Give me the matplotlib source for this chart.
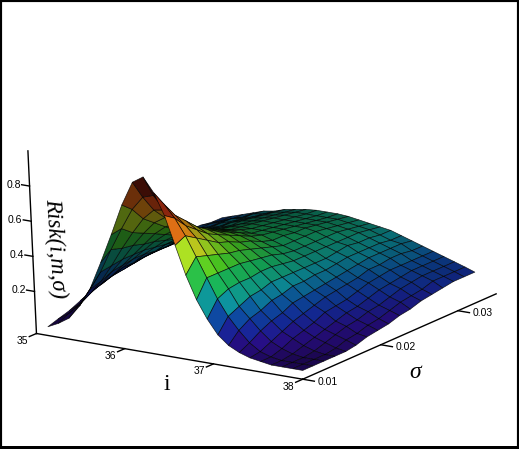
"""
Risk(i,m,sigma) surface, 3D view with black image frame
"""
import numpy as np
import matplotlib
matplotlib.use("Agg")
import matplotlib.pyplot as plt
from matplotlib.colors import LinearSegmentedColormap
from mpl_toolkits.mplot3d import proj3d

# values
i_values = [35.13, 35.25, 35.37, 35.49, 35.61, 35.73, 35.85, 35.97, 36.09, 36.21, 36.33, 36.45, 36.57,
            36.69, 36.81, 36.93, 37.05, 37.17, 37.29, 37.41, 37.53, 37.65, 37.77, 37.89, 38.0]
sigma_values = [0.0100, 0.0113, 0.0127, 0.0141, 0.0155, 0.0168, 0.0182, 0.0196, 0.0210,
                0.0224, 0.0238, 0.0252, 0.0266, 0.0280, 0.0294, 0.0308, 0.0322]
risk = [
    [.01, .04, .08, .16, .27, .43, .60, .78, .92, .96, .88, .76, .60, .44, .31, .21, .13, .08, .05, .03, .02, .01, .01, .01, .01],
    [.03, .07, .13, .23, .34, .48, .61, .73, .81, .83, .79, .72, .63, .52, .41, .30, .21, .14, .08, .04, .02, .01, .01, .01, .01],
    [.05, .10, .17, .25, .35, .46, .56, .65, .71, .72, .70, .65, .59, .50, .41, .33, .24, .18, .12, .07, .04, .02, .01, .01, .01],
    [.08, .14, .20, .28, .36, .45, .53, .60, .64, .65, .64, .60, .55, .48, .41, .34, .27, .20, .15, .10, .07, .04, .02, .01, .01],
    [.11, .16, .22, .29, .36, .43, .50, .55, .58, .59, .58, .55, .51, .46, .41, .34, .28, .23, .17, .13, .09, .06, .04, .02, .01],
    [.13, .18, .24, .30, .36, .42, .47, .51, .53, .54, .54, .52, .49, .45, .40, .35, .30, .24, .20, .15, .11, .08, .06, .04, .02],
    [.15, .19, .24, .30, .35, .40, .44, .47, .50, .51, .50, .49, .46, .43, .39, .35, .30, .26, .21, .17, .14, .10, .08, .05, .04],
    [.16, .20, .25, .29, .34, .38, .42, .44, .46, .47, .47, .46, .44, .41, .38, .34, .30, .26, .22, .19, .15, .12, .09, .07, .05],
    [.18, .21, .25, .29, .33, .37, .40, .42, .44, .44, .44, .43, .41, .39, .36, .33, .30, .27, .23, .20, .16, .13, .11, .08, .06],
    [.18, .22, .25, .29, .32, .35, .38, .40, .41, .42, .41, .41, .39, .37, .35, .33, .30, .27, .24, .21, .18, .15, .12, .10, .08],
    [.19, .22, .25, .28, .32, .35, .37, .39, .40, .40, .40, .40, .39, .37, .35, .33, .30, .28, .25, .22, .20, .17, .14, .12, .09],
    [.20, .23, .26, .28, .32, .34, .36, .38, .39, .39, .39, .39, .38, .37, .35, .33, .31, .29, .26, .24, .21, .18, .16, .13, .11],
    [.21, .24, .26, .29, .31, .34, .36, .37, .38, .38, .38, .38, .38, .37, .35, .33, .32, .29, .27, .24, .22, .19, .17, .14, .12],
    [.22, .24, .26, .29, .31, .33, .35, .36, .37, .37, .37, .37, .37, .36, .35, .33, .31, .29, .27, .25, .22, .20, .18, .16, .13],
    [.22, .24, .26, .29, .30, .32, .34, .35, .36, .36, .36, .36, .36, .35, .34, .33, .31, .29, .27, .25, .22, .20, .18, .16, .14],
    [.21, .23, .25, .27, .30, .31, .33, .34, .35, .35, .35, .35, .35, .34, .33, .32, .30, .28, .27, .24, .22, .20, .18, .16, .14],
    [.21, .23, .25, .27, .29, .30, .32, .33, .34, .345, .345, .345, .34, .33, .32, .31, .30, .28, .26, .24, .22, .20, .18, .16, .14],
]

i_ticks = [35, 36, 37, 38]
sigma_ticks = [0.01, 0.02, 0.03]
risk_ticks = [0.2, 0.4, 0.6, 0.8]

I_LIM = (35.0, 38.0)
S_LIM = (0.01, 0.035)
Z_LIM = (-0.04, 1.0)
BOX = (302, 355, 181)
Z_LEAN = 0.09  # the z axis leans left towards the top

W, H = 519, 449

# z -> colour
cmap = LinearSegmentedColormap.from_list("risk", [
    (0.00, "#2a0a78"), (0.08, "#28108c"), (0.15, "#142a9a"), (0.22, "#0c4c9c"),
    (0.30, "#0c8c96"), (0.40, "#14a858"), (0.50, "#46c020"), (0.60, "#a0d020"),
    (0.70, "#e09a14"), (0.82, "#d04014"), (0.97, "#4a0808"), (1.00, "#4a0808"),
])


def shaded_colors(X, Y, Z):
    # normals in box units, data units would be useless (sigma range is tiny)
    sx = BOX[0] / (I_LIM[1] - I_LIM[0])
    sy = BOX[1] / (S_LIM[1] - S_LIM[0])
    sz = BOX[2] / (Z_LIM[1] - Z_LIM[0])
    dz_dy, dz_dx = np.gradient(Z * sz, Y[:, 0] * sy, X[0, :] * sx)
    n = np.dstack([-dz_dx, -dz_dy, np.ones_like(Z)])
    n /= np.linalg.norm(n, axis=2, keepdims=True)
    light = np.array([0.85, -0.25, 0.20])
    light /= np.linalg.norm(light)
    shade = 0.5 + 0.6 * np.clip(n @ light, 0, None)
    rgba = cmap(np.clip(Z, 0, 1))
    rgba[..., :3] = np.clip(rgba[..., :3] * shade[..., None], 0, 1)
    return rgba


def label3d(ax, x, y, z, s, **kw):
    # place the text at the projected point, plain 2D text after that
    px, py, _ = proj3d.proj_transform(x, y, z, ax.get_proj())
    ax.text2D(px, py, s, transform=ax.transData, clip_on=False, **kw)


def z_axis_i(z):
    return I_LIM[0] - Z_LEAN * (z - Z_LIM[0]) / (Z_LIM[1] - Z_LIM[0])


def main():
    X, Y = np.meshgrid(i_values, sigma_values)
    Z = np.array(risk)

    fig = plt.figure(figsize=(W / 100, H / 100), dpi=100, facecolor="white")
    ax = fig.add_axes([0.003, -0.011, 1, 1], projection="3d")
    ax.set_xlim(*I_LIM, view_margin=0)
    ax.set_ylim(*S_LIM, view_margin=0)
    ax.set_zlim(*Z_LIM, view_margin=0)
    ax.set_box_aspect(BOX, zoom=1.12)
    ax.view_init(elev=15.5, azim=-58)
    ax.set_proj_type("persp", focal_length=8)
    ax.set_axis_off()

    # the 3d axes box is square and narrower than the figure, so no clipping
    surf = ax.plot_surface(X, Y, Z, facecolors=shaded_colors(X, Y, Z),
                           rstride=1, cstride=1, shade=False, antialiased=True)
    surf.set_edgecolor((0, 0, 0, 0.8))
    surf.set_linewidth(0.5)
    surf.set_clip_on(False)

    # axis lines
    line = dict(color="black", lw=1.0, clip_on=False)
    ax.plot(I_LIM, [S_LIM[0]] * 2, [Z_LIM[0]] * 2, **line)
    ax.plot([I_LIM[1]] * 2, S_LIM, [Z_LIM[0]] * 2, **line)
    ax.plot([I_LIM[0], z_axis_i(Z_LIM[1])], [S_LIM[0]] * 2, Z_LIM, **line)

    tick_font = dict(family="Liberation Sans", fontsize=7.5, color="black")
    for v in i_ticks:
        ax.plot([v, v], [S_LIM[0], S_LIM[0] - 0.0009], [Z_LIM[0]] * 2, **line)
        label3d(ax, v, S_LIM[0] - 0.0011, Z_LIM[0] - 0.02, str(v), ha="right", va="center", **tick_font)
    for v in sigma_ticks:
        ax.plot([I_LIM[1], I_LIM[1] + 0.13], [v, v], [Z_LIM[0]] * 2, **line)
        label3d(ax, I_LIM[1] + 0.17, v, Z_LIM[0], f"{v:.2f}", ha="left", va="center", **tick_font)
    for v in risk_ticks:
        x0 = z_axis_i(v)
        ax.plot([x0, x0 - 0.09], [S_LIM[0]] * 2, [v, v], **line)
        label3d(ax, x0 - 0.10, S_LIM[0], v, f"{v:.1f}", ha="right", va="center", **tick_font)

    # axis titles
    fig.text(167 / W, 1 - 385 / H, "i", family="Liberation Serif", fontsize=17, ha="center", va="center")
    fig.text(415 / W, 1 - 373 / H, "σ", family="Liberation Serif", style="italic", fontsize=17,
             ha="center", va="center")
    fig.text(55 / W, 1 - 248 / H, "Risk(i,m,σ)", family="Liberation Serif", style="italic", fontsize=16.5,
             rotation=-86, ha="center", va="center")

    # image frame, bottom edge is heavier
    fig.add_artist(plt.Rectangle((0, 0), 1, 1, transform=fig.transFigure, fill=False, ec="black", lw=3))
    fig.add_artist(plt.Rectangle((0, 0), 1, 3 / H, transform=fig.transFigure, fc="black", ec="none"))

    fig.savefig("out.png", dpi=100)
    plt.close(fig)


if __name__ == "__main__":
    main()
